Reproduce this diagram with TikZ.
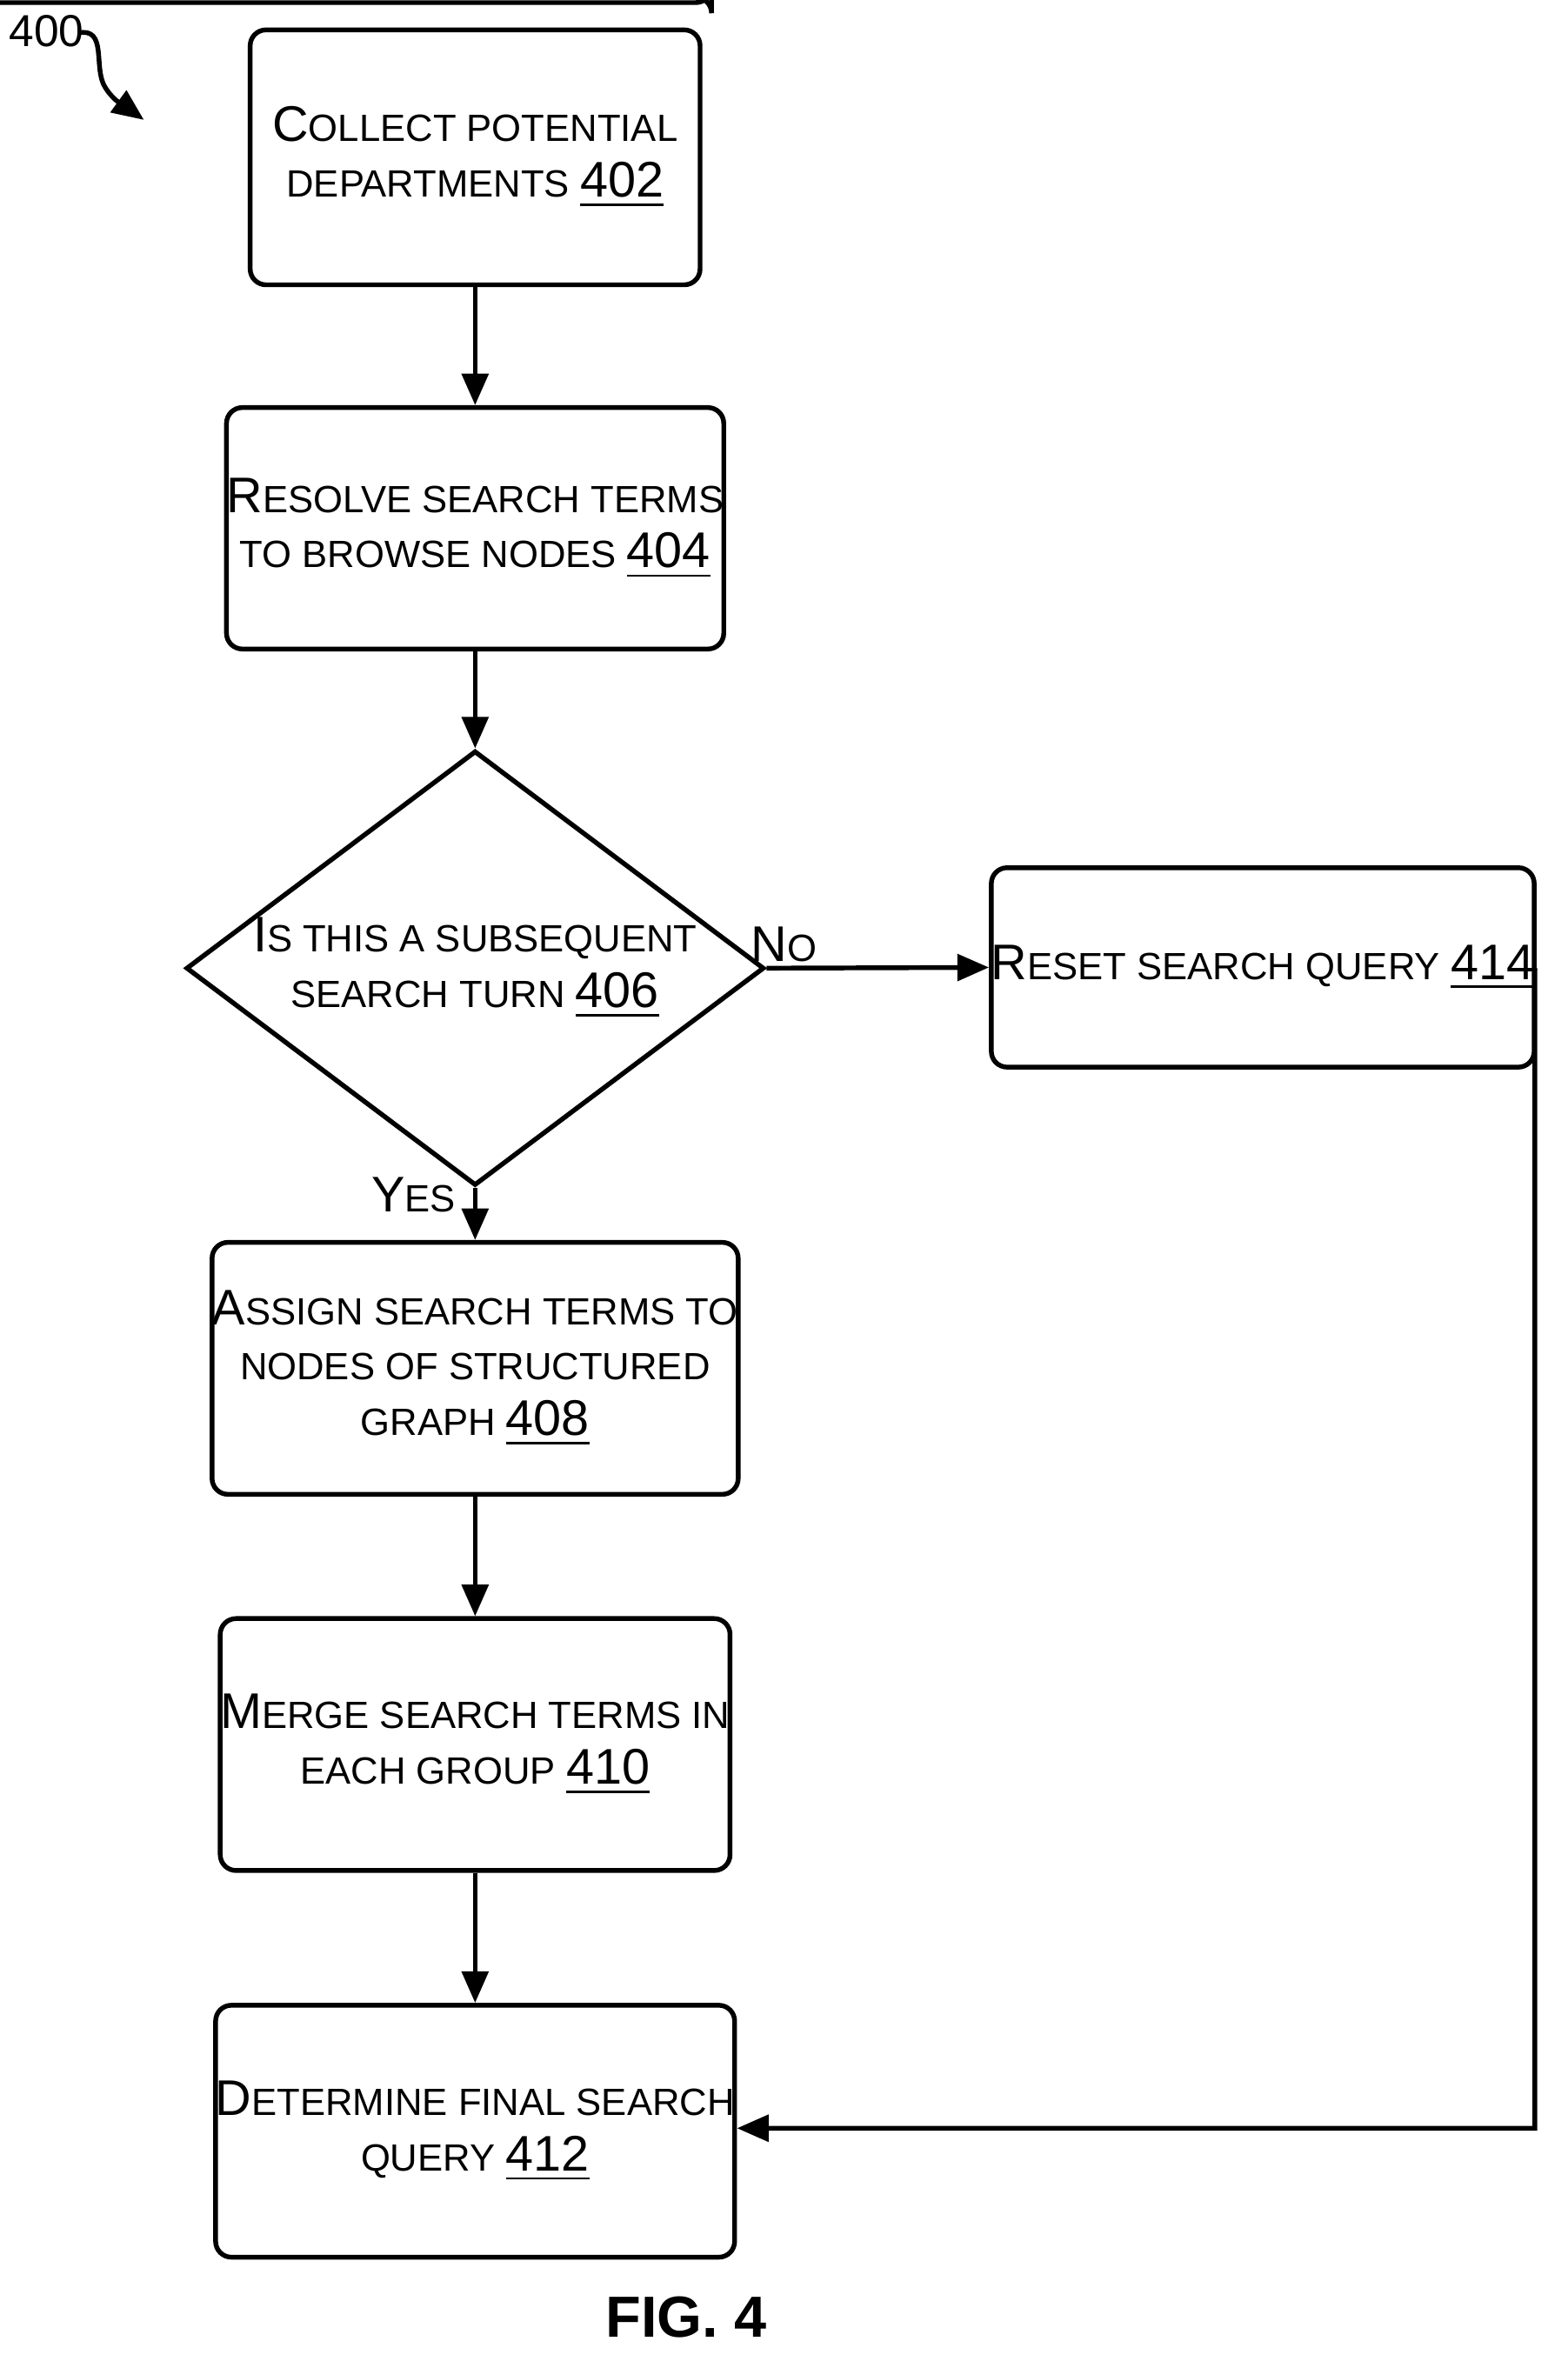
\documentclass[tikz,border=0pt]{standalone}
\usepackage{fontspec}
\setmainfont{Liberation Sans}
\usetikzlibrary{shapes.geometric,arrows.meta}
\newcommand{\B}[1]{{\fontsize{9.5}{11}\selectfont #1}}
\newcommand{\N}[1]{{\fontsize{9.5}{11}\selectfont\underline{#1}}}
\begin{document}
\begin{tikzpicture}[x=0.01cm,y=-0.01cm,
  box/.style={draw,line width=0.9pt,rounded corners=3pt,align=center,inner sep=0pt,
    font=\fontsize{7.2}{10.5}\selectfont},
  arr/.style={line width=0.9pt,-{Triangle[length=6pt,width=5pt]}},
  lab/.style={font=\fontsize{7.2}{9}\selectfont}]
\useasboundingbox (0,0) rectangle (1046,1580);
\node[box,minimum width=300\pgflinewidth] at (0,0) {};
\node[box,minimum width=3cm,minimum height=1.7cm] (a) at (317,105) {\B{C}OLLECT POTENTIAL\\DEPARTMENTS \N{402}};
\node[box,minimum width=3cm,minimum height=1.61cm] (b) at (317,352.5) {\B{R}ESOLVE SEARCH TERMS\\TO BROWSE NODES \N{404}};
\node[draw,line width=0.9pt,diamond,aspect=1.33,minimum width=3.34cm,minimum height=2.52cm,inner sep=0pt,align=center,
  font=\fontsize{7.2}{10.5}\selectfont] (c) at (317,646) {\B{I}S THIS A SUBSEQUENT\\SEARCH TURN \N{406}};
\node[box,minimum width=3.01cm,minimum height=1.33cm] (g) at (842.5,645.5) {\B{R}ESET SEARCH QUERY \N{414}};
\node[box,minimum width=3cm,minimum height=1.68cm] (d) at (317,913) {\B{A}SSIGN SEARCH TERMS TO\\NODES OF STRUCTURED\\GRAPH \N{408}};
\node[box,minimum width=3cm,minimum height=1.68cm] (e) at (317,1164) {\B{M}ERGE SEARCH TERMS IN\\EACH GROUP \N{410}};
\node[box,minimum width=3cm,minimum height=1.68cm] (f) at (317,1422) {\B{D}ETERMINE FINAL SEARCH\\QUERY \N{412}};
\draw[arr] (a) -- (b);
\draw[arr] (b) -- (c);
\draw[arr] (c) -- (d);
\draw[arr] (d) -- (e);
\draw[arr] (e) -- (f);
\draw[arr] (c.east) -- (g.west);
\coordinate (r1) at (1024,646);
\coordinate (r2) at (1024,1420);
\draw[arr] (g.east) -- (r1) -- (r2) -- (f.east |- r2);
\node[lab] (no) at (523,630) {\B{N}O};
\node[lab] (yes) at (276,797) {\B{Y}ES};
\node[font=\fontsize{8.5}{10}\selectfont] (n400) at (31,21) {400};
\coordinate (t400) at (96,80);
\draw[line width=0.9pt,-{Triangle[length=6pt,width=5pt]}] (52,22) .. controls (72,18) and (62,45) .. (70,58) .. controls (76,68) and (85,72) .. (t400);
\node[font=\bfseries\fontsize{11}{13}\selectfont] (fig) at (458,1546) {FIG. 4};
\end{tikzpicture}
\end{document}
